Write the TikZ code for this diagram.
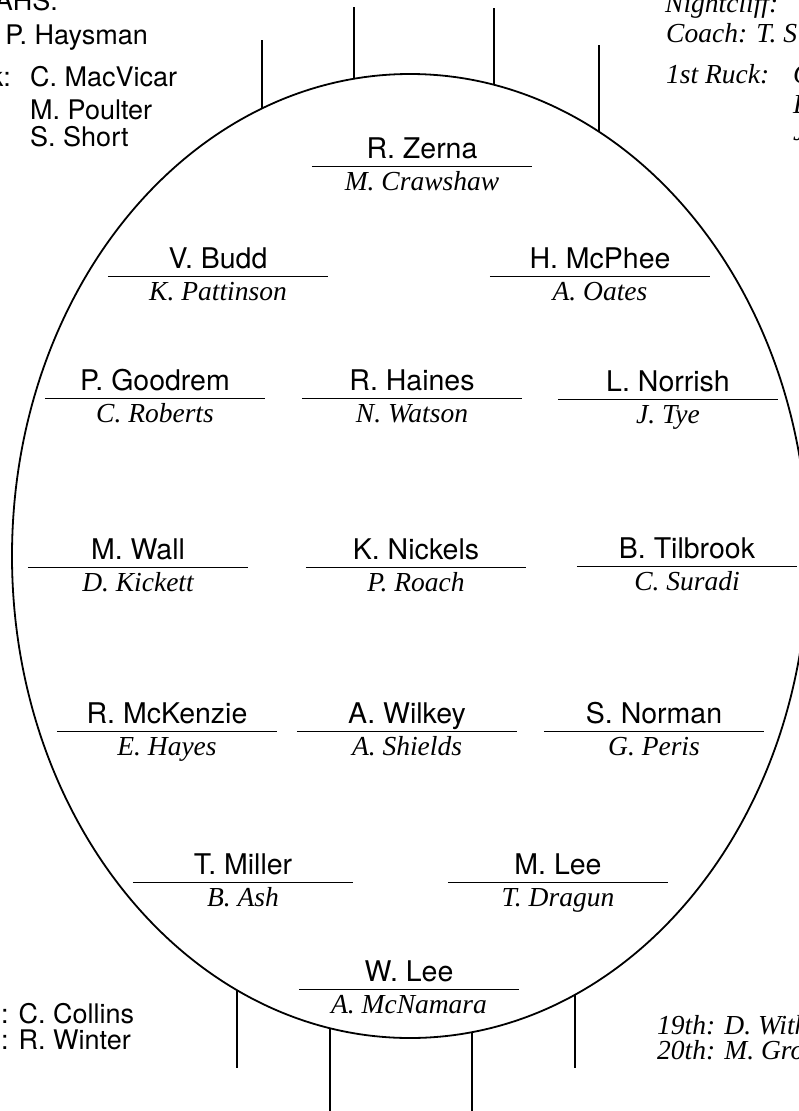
\documentclass[tikz,border=0pt]{standalone}
\usepackage{fontspec}
\setmainfont{Liberation Serif}
\newfontfamily\helv{TeX Gyre Heros}
\usepackage{tikz}
\usetikzlibrary{positioning}
\tikzset{
  oval/.style  ={line width=1.8pt},
  post/.style  ={line width=1.8pt},
  rule/.style  ={line width=0.9pt},
  pname/.style ={anchor=south,minimum width=220pt,inner xsep=0pt,inner ysep=7.5pt,
                 text depth=0pt,font=\helv\fontsize{28.5}{30}\selectfont},
  sub/.style   ={inner sep=0pt,text height=18pt,text depth=6pt,
                 font=\itshape\fontsize{27.5}{30}\selectfont},
  side/.style  ={inner sep=0pt,font=\helv\fontsize{27}{30}\selectfont},
  note/.style  ={inner sep=0pt,font=\itshape\fontsize{27.5}{30}\selectfont},
}

\begin{document}
\begin{tikzpicture}[x=1pt,y=-1pt]
  \useasboundingbox (0,0) rectangle (799,1111);
  % the ground
  \draw[oval] (410,556) ellipse [x radius=398pt,y radius=482pt];
  % goal and behind posts, top end
  \draw[post] (262,40) -- (262,108.6);
  \draw[post] (354,7)  -- (354,78.8);
  \draw[post] (494,8)  -- (494,84.8);
  \draw[post] (599,45) -- (599,131.8);
  % goal and behind posts, bottom end
  \draw[post] (237,990.1)  -- (237,1068);
  \draw[post] (330,1028.2) -- (330,1120);
  \draw[post] (472,1032.1) -- (472,1120);
  \draw[post] (575,994.6)  -- (575,1068);

  % positions: top name over the rule, opponent in italics below
  \node[pname] (zerna) at (422,166) {R. Zerna};
  \draw[rule] (zerna.south west) -- (zerna.south east);
  \node[sub,below=6pt of zerna] {M. Crawshaw};

  \node[pname] (budd) at (218,276) {V. Budd};
  \draw[rule] (budd.south west) -- (budd.south east);
  \node[sub,below=6pt of budd] {K. Pattinson};

  \node[pname] (mcphee) at (600,276) {H. McPhee};
  \draw[rule] (mcphee.south west) -- (mcphee.south east);
  \node[sub,below=6pt of mcphee] {A. Oates};

  \node[pname] (goodrem) at (155,398) {P. Goodrem};
  \draw[rule] (goodrem.south west) -- (goodrem.south east);
  \node[sub,below=6pt of goodrem] {C. Roberts};

  \node[pname] (haines) at (412,398) {R. Haines};
  \draw[rule] (haines.south west) -- (haines.south east);
  \node[sub,below=6pt of haines] {N. Watson};

  \node[pname] (norrish) at (668,399) {L. Norrish};
  \draw[rule] (norrish.south west) -- (norrish.south east);
  \node[sub,below=6pt of norrish] {J. Tye};

  \node[pname] (wall) at (138,567) {M. Wall};
  \draw[rule] (wall.south west) -- (wall.south east);
  \node[sub,below=6pt of wall] {D. Kickett};

  \node[pname] (nickels) at (416,567) {K. Nickels};
  \draw[rule] (nickels.south west) -- (nickels.south east);
  \node[sub,below=6pt of nickels] {P. Roach};

  \node[pname] (tilbrook) at (687,566) {B. Tilbrook};
  \draw[rule] (tilbrook.south west) -- (tilbrook.south east);
  \node[sub,below=6pt of tilbrook] {C. Suradi};

  \node[pname] (mckenzie) at (167,731) {R. McKenzie};
  \draw[rule] (mckenzie.south west) -- (mckenzie.south east);
  \node[sub,below=6pt of mckenzie] {E. Hayes};

  \node[pname] (wilkey) at (407,731) {A. Wilkey};
  \draw[rule] (wilkey.south west) -- (wilkey.south east);
  \node[sub,below=6pt of wilkey] {A. Shields};

  \node[pname] (norman) at (654,731) {S. Norman};
  \draw[rule] (norman.south west) -- (norman.south east);
  \node[sub,below=6pt of norman] {G. Peris};

  \node[pname] (miller) at (243,882) {T. Miller};
  \draw[rule] (miller.south west) -- (miller.south east);
  \node[sub,below=6pt of miller] {B. Ash};

  \node[pname] (mlee) at (558,882) {M. Lee};
  \draw[rule] (mlee.south west) -- (mlee.south east);
  \node[sub,below=6pt of mlee] {T. Dragun};

  \node[pname] (wlee) at (409,989) {W. Lee};
  \draw[rule] (wlee.south west) -- (wlee.south east);
  \node[sub,below=6pt of wlee] {A. McNamara};

  % left side notes (cut by the page edge)
  \node[side,anchor=base east] (team) at (58,10) {AHS:};
  \node[side,anchor=base east] (coach) at (148,44) {P. Haysman};
  \node[side,anchor=base east] (ruck) at (11,86) {k:};
  \node[side,anchor=base west] (ruck1) at (30,86) {C. MacVicar};
  \node[side,anchor=base west] (ruck2) at (30,119) {M. Poulter};
  \node[side,anchor=base west] (ruck3) at (30,146) {S. Short};
  \node[side,anchor=base west] (res1) at (1,1023) {: C. Collins};
  \node[side,anchor=base west] (res2) at (1,1049) {: R. Winter};

  % right side notes
  \node[note,anchor=base west] (oppo) at (665,12) {Nightcliff:};
  \node[note,anchor=base west] (ocoach) at (666,42) {Coach: T. S};
  \node[note,anchor=base west] (oruck) at (666,83) {1st Ruck:};
  \node[note,anchor=base west] (oruck1) at (793,83) {C};
  \node[note,anchor=base west] (oruck2) at (793,113) {E};
  \node[note,anchor=base west] (oruck3) at (793,140) {J};
  \node[note,anchor=base west] (ores1) at (657,1034) {19th: D. With};
  \node[note,anchor=base west] (ores2) at (657,1059) {20th: M. Gro};
\end{tikzpicture}
\end{document}
